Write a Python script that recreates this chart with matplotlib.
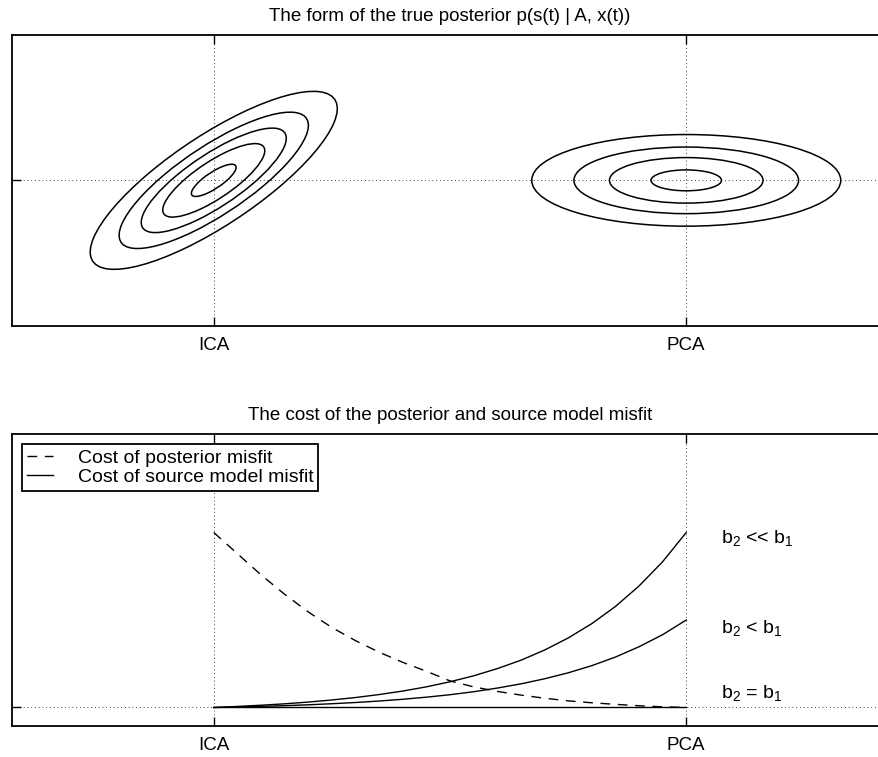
import numpy as np
import matplotlib
matplotlib.use('Agg')
import matplotlib.pyplot as plt
from matplotlib.patches import Ellipse

plt.rcParams['font.family'] = ['Liberation Sans', 'DejaVu Sans']
plt.rcParams['mathtext.fontset'] = 'custom'
plt.rcParams['mathtext.rm'] = 'Liberation Sans'
plt.rcParams['mathtext.it'] = 'Liberation Sans:italic'
plt.rcParams['font.size'] = 14

# x axis: the two solutions
tick_pos = [0, 1]
tick_labels = ['ICA', 'PCA']

# top panel - contours of the posterior (half extents in data units)
ica_half_width = 0.2615
ica_half_height = 0.611
ica_corr = 0.806
ica_levels = [1.0, 0.766, 0.587, 0.413, 0.181]

pca_half_width = 0.327
pca_half_height = 0.3145
pca_levels = [1.0, 0.727, 0.497, 0.228]

# bottom panel - costs going from ICA (0) to PCA (1)
x_cost = [0.00, 0.05, 0.10, 0.15, 0.20, 0.25, 0.30, 0.35, 0.40, 0.45, 0.50,
          0.55, 0.60, 0.65, 0.70, 0.75, 0.80, 0.85, 0.90, 0.95, 1.00]
posterior_cost = [1.000, 0.879, 0.758, 0.647, 0.546, 0.457, 0.382, 0.316, 0.258, 0.207, 0.152,
                  0.118, 0.092, 0.071, 0.053, 0.038, 0.027, 0.018, 0.010, 0.004, 0.000]
source_much = [0.000, 0.006, 0.013, 0.021, 0.031, 0.043, 0.057, 0.074, 0.094, 0.118, 0.147,
               0.181, 0.222, 0.270, 0.328, 0.397, 0.479, 0.577, 0.694, 0.833, 1.000]
source_less = [0.000, 0.003, 0.0065, 0.0105, 0.0155, 0.0215, 0.0285, 0.037, 0.047, 0.059, 0.073,
               0.090, 0.111, 0.135, 0.164, 0.198, 0.239, 0.288, 0.347, 0.416, 0.500]
source_equal = [0.0] * len(x_cost)

labels_b = [r'b$_2$ << b$_1$', r'b$_2$ < b$_1$', r'b$_2$ = b$_1$']

fig = plt.figure(figsize=(8.79, 7.57), dpi=100)
W, H = 879.0, 757.0
ax1 = fig.add_axes([12 / W, (H - 326) / H, 876 / W, 291.3 / H])
ax2 = fig.add_axes([12 / W, (H - 725.7) / H, 876 / W, 291.4 / H])

dots = (0, (1, 3.5))


def style(ax):
    ax.set_xlim(-0.427, 1.427)
    ax.set_xticks(tick_pos, tick_labels)
    ax.set_yticks([0])
    ax.set_yticklabels([])
    ax.tick_params(direction='in', length=6.5, width=1.0, top=True, right=True,
                   pad=8, labelsize=13.5)
    ax.grid(True, color='k', lw=0.6, linestyle=dots)
    ax.set_axisbelow(True)
    for s in ax.spines.values():
        s.set_linewidth(1.3)


# top: ellipses
style(ax1)
ax1.set_ylim(-1, 1)
cov = np.array([[ica_half_width ** 2, ica_corr * ica_half_width * ica_half_height],
                [ica_corr * ica_half_width * ica_half_height, ica_half_height ** 2]])
vals, vecs = np.linalg.eigh(cov)
ang = np.degrees(np.arctan2(vecs[1, 1], vecs[0, 1]))
for lv in ica_levels:
    ax1.add_patch(Ellipse((0, 0), 2 * np.sqrt(vals[1]) * lv, 2 * np.sqrt(vals[0]) * lv,
                          angle=ang, fill=False, ec='k', lw=1.1))
for lv in pca_levels:
    ax1.add_patch(Ellipse((1, 0), 2 * pca_half_width * lv, 2 * pca_half_height * lv,
                          fill=False, ec='k', lw=1.1))
ax1.set_title('The form of the true posterior p(s(t) | A, x(t))', fontsize=13.5, pad=10)

# bottom: costs
style(ax2)
ax2.set_ylim(-0.104, 1.561)
ax2.plot(x_cost, posterior_cost, color='k', lw=1.0, dashes=(7, 5.5),
         label='Cost of posterior misfit')
ax2.plot(x_cost, source_much, color='k', lw=1.0, label='Cost of source model misfit')
ax2.plot(x_cost, source_less, color='k', lw=1.0)
ax2.plot(x_cost, source_equal, color='k', lw=1.0)
for lab, yy in zip(labels_b, [0.94, 0.426, 0.054]):
    ax2.text(1.073, yy, lab, ha='left', va='baseline')
ax2.set_title('The cost of the posterior and source model misfit', fontsize=13.5, pad=10)
leg = ax2.legend(loc='upper left', handlelength=1.32, handletextpad=1.29,
                 borderaxespad=0.52, fancybox=False, framealpha=1,
                 edgecolor='k', labelspacing=0.08, borderpad=0.25)
leg.get_frame().set_linewidth(1.3)

fig.savefig('out.png', dpi=100)
